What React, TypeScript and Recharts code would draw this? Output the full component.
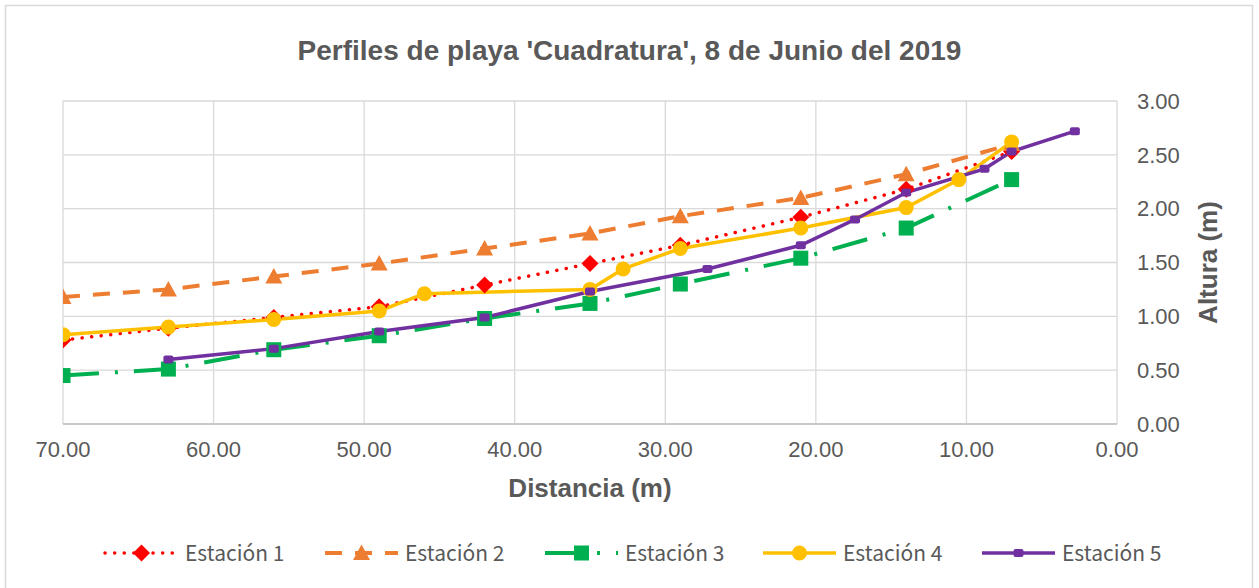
import React from 'react';
import { LineChart, Line, XAxis, YAxis, CartesianGrid, Label } from 'recharts';

const TITLE = "Perfiles de playa 'Cuadratura', 8 de Junio del 2019";
const X_TITLE = 'Distancia (m)';
const Y_TITLE = 'Altura (m)';
const SERIES_NAMES = ['Estación 1', 'Estación 2', 'Estación 3', 'Estación 4', 'Estación 5'];

const est1Dist = [70, 63, 56, 49, 42, 35, 29, 21, 14, 7];
const est1Alt = [0.78, 0.89, 0.99, 1.09, 1.29, 1.49, 1.66, 1.92, 2.18, 2.53];

const est2Dist = [70, 63, 56, 49, 42, 35, 29, 21, 14, 7];
const est2Alt = [1.18, 1.25, 1.37, 1.49, 1.63, 1.77, 1.93, 2.1, 2.32, 2.6];

const est3Dist = [70, 63, 56, 49, 42, 35, 29, 21, 14, 7];
const est3Alt = [0.45, 0.51, 0.69, 0.82, 0.98, 1.12, 1.3, 1.54, 1.82, 2.27];

const est4Dist = [70, 63, 56, 49, 46, 35, 32.8, 29, 21, 14, 10.5, 7];
const est4Alt = [0.83, 0.9, 0.97, 1.05, 1.21, 1.25, 1.44, 1.63, 1.82, 2.01, 2.27, 2.62];

const est5Dist = [63, 56, 49, 42, 35, 27.2, 21, 17.4, 14, 8.8, 7, 2.8];
const est5Alt = [0.6, 0.7, 0.86, 0.99, 1.23, 1.44, 1.66, 1.9, 2.15, 2.37, 2.53, 2.72];

const xTicks = [0, 10, 20, 30, 40, 50, 60, 70];
const yTicks = [0, 0.5, 1, 1.5, 2, 2.5, 3];

const zip = (xs: number[], ys: number[]) => xs.map((x, i) => ({ x, y: ys[i] }));

const COLORS = ['#FF0000', '#ED7D31', '#00B050', '#FFC000', '#7030A0'];
const DASHES = ['0.1 9.5', '17 13', '36 16 3 16', undefined, undefined];
const WIDTHS = [3.5, 4, 4, 3.5, 3.5];
const CAPS: any[] = ['round', 'butt', 'butt', 'butt', 'butt'];

const marker = (idx: number, cx: number, cy: number, key: string) => {
  const c = COLORS[idx];
  if (idx === 0) {
    const s = 8.5;
    return <path key={key} d={`M${cx} ${cy - s}L${cx + s} ${cy}L${cx} ${cy + s}L${cx - s} ${cy}Z`} fill={c} />;
  }
  if (idx === 1) {
    return <path key={key} d={`M${cx} ${cy - 8.5}L${cx + 8.5} ${cy + 7}L${cx - 8.5} ${cy + 7}Z`} fill={c} />;
  }
  if (idx === 2) {
    return <rect key={key} x={cx - 7.5} y={cy - 7.5} width={15} height={15} fill={c} />;
  }
  if (idx === 3) {
    return <circle key={key} cx={cx} cy={cy} r={7.5} fill={c} />;
  }
  return <rect key={key} x={cx - 5} y={cy - 4} width={10} height={8} rx={2} fill={c} />;
};

const seriesData = [
  zip(est1Dist, est1Alt),
  zip(est2Dist, est2Alt),
  zip(est3Dist, est3Alt),
  zip(est4Dist, est4Alt),
  zip(est5Dist, est5Alt),
];

const legendX = [105, 325, 545, 763, 982];

const W = 1259;
const H = 588;
const TICK_FONT = { fontFamily: 'Liberation Sans, Arial, sans-serif', fontSize: 22, fill: '#595959' };

export default function App() {
  return (
    <div style={{ position: 'absolute', left: 0, top: 0, width: W, height: H, background: '#fff', overflow: 'hidden' }}>
      <LineChart width={W} height={H} margin={{ top: 101, left: 63, right: 12, bottom: 84 }}>
        <CartesianGrid stroke="#d9d9d9" strokeWidth={1.3} />
        <XAxis
          type="number"
          dataKey="x"
          domain={[0, 70]}
          ticks={xTicks}
          reversed
          allowDataOverflow
          height={80}
          tickLine={false}
          tickSize={0}
          tickMargin={17}
          axisLine={{ stroke: '#bfbfbf', strokeWidth: 1.5 }}
          tick={TICK_FONT}
          tickFormatter={(v: number) => v.toFixed(2)}
        >
          <Label
            value={X_TITLE}
            position="insideBottom"
            offset={7}
            style={{ fontFamily: 'Liberation Sans, Arial, sans-serif', fontSize: 26, fontWeight: 'bold', fill: '#595959' }}
          />
        </XAxis>
        <YAxis
          type="number"
          dataKey="y"
          orientation="right"
          domain={[0, 3]}
          ticks={yTicks}
          width={130}
          tickLine={false}
          axisLine={false}
          tickSize={0}
          tickMargin={20}
          tick={{ ...TICK_FONT, textAnchor: 'start' }}
          tickFormatter={(v: number) => v.toFixed(2)}
        >
          <Label
            content={(props: any) => {
              const vb = props.viewBox || {};
              const cx = vb.x + 91;
              const cy = vb.y + vb.height / 2;
              return (
                <text
                  x={cx}
                  y={cy}
                  transform={`rotate(-90, ${cx}, ${cy})`}
                  textAnchor="middle"
                  dominantBaseline="central"
                  style={{ fontFamily: 'Liberation Sans, Arial, sans-serif', fontSize: 26, fontWeight: 'bold', fill: '#595959' }}
                >
                  {Y_TITLE}
                </text>
              );
            }}
          />
        </YAxis>
        {seriesData.map((d, idx) => (
          <Line
            key={SERIES_NAMES[idx]}
            name={SERIES_NAMES[idx]}
            data={d}
            dataKey="y"
            type="linear"
            stroke={COLORS[idx]}
            strokeWidth={WIDTHS[idx]}
            strokeDasharray={DASHES[idx]}
            strokeLinecap={CAPS[idx]}
            isAnimationActive={false}
            activeDot={false}
            dot={(p: any) => marker(idx, p.cx, p.cy, `m${idx}-${p.index}`)}
          />
        ))}
      </LineChart>
      <svg width={W} height={H} style={{ position: 'absolute', left: 0, top: 0, pointerEvents: 'none' }}>
        <rect x={5.5} y={5.5} width={1247} height={600} fill="none" stroke="#d9d9d9" strokeWidth={1.5} />
        <text
          x={W / 2}
          y={60}
          textAnchor="middle"
          style={{ fontFamily: 'Liberation Sans, Arial, sans-serif', fontSize: 28, fontWeight: 'bold', fill: '#595959' }}
        >
          {TITLE}
        </text>
        {SERIES_NAMES.map((name, idx) => {
          const x0 = legendX[idx];
          const y0 = 553;
          return (
            <g key={name}>
              <line
                x1={x0}
                y1={y0}
                x2={x0 + 73}
                y2={y0}
                stroke={COLORS[idx]}
                strokeWidth={WIDTHS[idx]}
                strokeDasharray={DASHES[idx]}
                strokeLinecap={CAPS[idx]}
              />
              {marker(idx, x0 + 36.5, y0, `lg${idx}`)}
              <text
                x={x0 + 80}
                y={y0 + 8}
                style={{ fontFamily: 'Noto Sans CJK SC, Liberation Sans, sans-serif', fontSize: 21, fill: '#595959' }}
              >
                {name}
              </text>
            </g>
          );
        })}
      </svg>
    </div>
  );
}
